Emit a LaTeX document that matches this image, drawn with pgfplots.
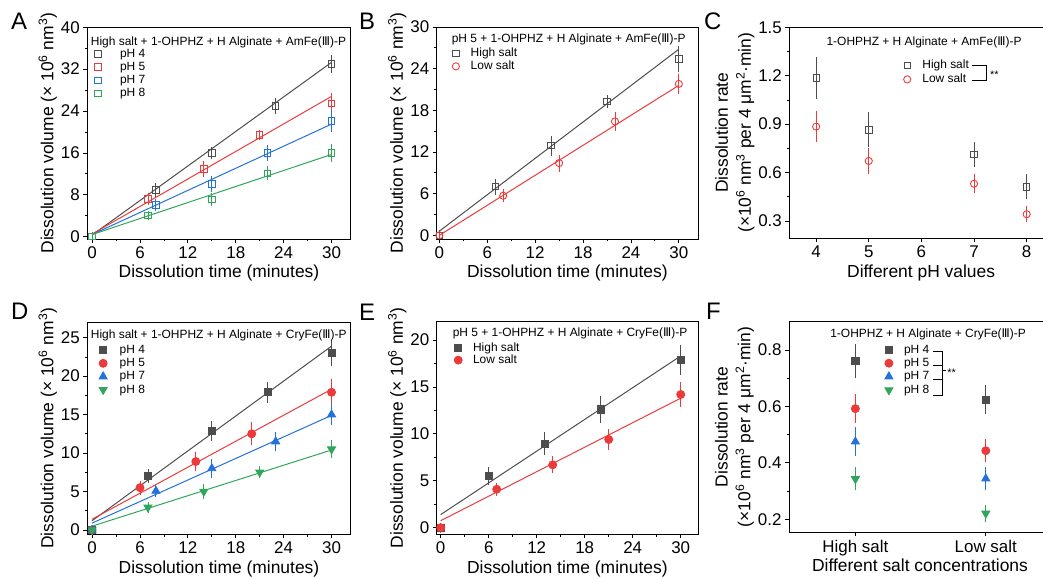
\documentclass[border=0pt]{standalone}
\usepackage{pgfplots}
\pgfplotsset{compat=1.18}
\usepackage{fontspec}
\setmainfont{Liberation Sans}
\newfontfamily\dejavu{DejaVu Sans}
\newcommand{\RIII}{{\dejavu Ⅲ}}
\newcommand{\fs}[2]{\fontsize{#1}{#2}\selectfont}
\definecolor{cgray}{HTML}{4D4D4D}
\definecolor{cred}{HTML}{EC3A3A}
\definecolor{cblue}{HTML}{2272DA}
\definecolor{cgreen}{HTML}{2FA65C}
\pgfplotsset{
  panel/.style={
    scale only axis, anchor=south west,
    axis line style={line width=0.9pt},
    every tick/.style={line width=0.8pt, black},
    tick align=outside, tick pos=left,
    major tick length=4pt, minor tick length=2.5pt,
    minor tick num=1,
    ticklabel style={font=\fs{17}{20}},
    /pgf/number format/assume math mode=true,
    label style={font=\fs{17.5}{23}},
    legend cell align=left,
    legend style={draw=none, fill=none, inner sep=0pt, anchor=north west,
       font=\fs{12}{14}, nodes={inner sep=0.5pt}, column sep=0pt},
  },
  limg/.style={legend image code/.code={\path (-6pt,0pt) (#1,0pt); \draw[##1] plot coordinates {(0pt,0pt)};}},
  fitline/.style={line width=1pt, forget plot},
  dat/.style={only marks, mark options={solid, line width=0.9pt},
    error bars/.cd, y dir=both, y explicit,
    error bar style={line width=0.9pt},
    error mark options={mark size=3pt, line width=0.9pt}},
  datdown/.style={only marks, mark options={solid, line width=0.9pt, rotate=180},
    error bars/.cd, y dir=both, y explicit,
    error bar style={line width=0.9pt},
    error mark options={mark size=3pt, line width=0.9pt, rotate=0}},
}
\begin{document}
\begin{tikzpicture}
\useasboundingbox (0,0) rectangle (1043bp,579bp);

% ---------------- A ----------------
\begin{axis}[panel, limg=21.5pt, at={(87.3bp,340bp)}, width=263.4bp, height=211.7bp,
  xmin=-0.6, xmax=32.4, ymin=-0.45, ymax=40,
  xtick={0,6,...,30}, ytick={0,8,...,40},
  xlabel={Dissolution time (minutes)},
  ylabel={Dissolution volume (× 10\textsuperscript{6} nm\textsuperscript{3})},
  ylabel shift=-3pt,
  legend style={at={(0.016,0.900)}, row sep=2.4pt}]
\addplot[cgray, fitline] coordinates {(0,0.3) (30,33.3)};
\addplot[cred, fitline] coordinates {(0,0.5) (30,26.8)};
\addplot[cblue, fitline] coordinates {(0,0.4) (30,21.5)};
\addplot[cgreen, fitline] coordinates {(0,0.4) (30,15.7)};
\addplot[cgray, mark=square, mark size=3.2pt, dat] table[row sep=\\, y error=e] {x y e\\ 0 0 0.3\\ 8 8.9 0.8\\ 15 16.0 0.6\\ 23 25.0 1.0\\ 30 33.0 1.2\\};
\addlegendentry{pH 4}
\addplot[cred, mark=square, mark size=3.2pt, dat] table[row sep=\\, y error=e] {x y e\\ 0 0 0.3\\ 7 7.2 0.6\\ 14 12.9 0.9\\ 21 19.4 0.4\\ 30 25.4 1.5\\};
\addlegendentry{pH 5}
\addplot[cblue, mark=square, mark size=3.2pt, dat] table[row sep=\\, y error=e] {x y e\\ 0 0 0.2\\ 8 6.05 0.5\\ 15 10.1 1.0\\ 22 16.0 1.0\\ 30 22.1 1.5\\};
\addlegendentry{pH 7}
\addplot[cgreen, mark=square, mark size=3.2pt, dat] table[row sep=\\, y error=e] {x y e\\ 0 0 0.2\\ 7 4.1 0.3\\ 15 7.1 0.6\\ 22 12.1 0.8\\ 30 16.0 1.1\\};
\addlegendentry{pH 8}
\node[anchor=west, inner sep=0pt, font=\fs{12}{14}] at (rel axis cs:0.013,0.929) {High salt + 1-OHPHZ + H Alginate + AmFe(\RIII)-P};
\end{axis}

% ---------------- B ----------------
\begin{axis}[panel, limg=14.2pt, at={(436.7bp,340bp)}, width=261.3bp, height=212bp,
  xmin=-0.33, xmax=32.4, ymin=-0.53, ymax=30,
  xtick={0,6,...,30}, ytick={0,6,...,30},
  xlabel={Dissolution time (minutes)},
  ylabel={Dissolution volume (× 10\textsuperscript{6} nm\textsuperscript{3})},
  ylabel shift=-3pt,
  legend style={at={(0.049,0.903)}, row sep=1.9pt}]
\addplot[cgray, fitline] coordinates {(0,0.6) (30,26.8)};
\addplot[cred, fitline] coordinates {(0,0) (30,21.6)};
\addplot[cgray, mark=square, mark size=3.2pt, dat] table[row sep=\\, y error=e] {x y e\\ 0 0 0.3\\ 7 7.0 0.7\\ 14 12.9 1.0\\ 21 19.3 0.5\\ 30 25.4 1.5\\};
\addlegendentry{High salt}
\addplot[cred, mark=o, mark size=3.6pt, dat] table[row sep=\\, y error=e] {x y e\\ 0 0 0.2\\ 8 5.7 0.5\\ 15 10.4 0.8\\ 22 16.4 0.9\\ 30 21.8 1.0\\};
\addlegendentry{Low salt}
\node[anchor=west, inner sep=0pt, font=\fs{12}{14}] at (rel axis cs:0.057,0.943) {pH 5 + 1-OHPHZ + H Alginate + AmFe(\RIII)-P};
\end{axis}

% ---------------- C ----------------
\begin{axis}[panel, limg=14.5pt, at={(789.3bp,340.7bp)}, width=263.7bp, height=211bp,
  xmin=3.49, xmax=8.5, ymin=0.193, ymax=1.5,
  xtick={4,5,6,7,8}, minor x tick num=0, ytick={0.3,0.6,...,1.5},
  yticklabel style={/pgf/number format/fixed, /pgf/number format/precision=1, /pgf/number format/fixed zerofill},
  xlabel={Different pH values},
  ylabel={Dissolution rate\\(×10\textsuperscript{6} nm\textsuperscript{3} per 4 μm\textsuperscript{2}·min)},
  ylabel style={align=center}, ylabel shift=-3pt,
  legend style={at={(0.423,0.847)}, row sep=2.9pt}]
\addplot[cgray, mark=square, mark size=3.2pt, dat] table[row sep=\\, y error=e] {x y e\\ 4 1.186 0.11\\ 5 0.864 0.09\\ 7 0.711 0.06\\ 8 0.512 0.06\\};
\addlegendentry{High salt}
\addplot[cred, mark=o, mark size=3.6pt, dat] table[row sep=\\, y error=e] {x y e\\ 4 0.885 0.08\\ 5 0.672 0.06\\ 7 0.531 0.04\\ 8 0.342 0.03\\};
\addlegendentry{Low salt}
\node[anchor=center, inner sep=0pt, font=\fs{12}{14}] at (rel axis cs:0.511,0.930) {1-OHPHZ + H Alginate + AmFe(\RIII)-P};
\draw[line width=0.9pt] (rel axis cs:0.692,0.817) -- (rel axis cs:0.746,0.817) -- (rel axis cs:0.746,0.746) -- (rel axis cs:0.692,0.746);
\node[anchor=west, inner sep=0pt, font=\fs{11}{12}] at (rel axis cs:0.761,0.774) {**};
\end{axis}

% ---------------- D ----------------
\begin{axis}[panel, limg=15.9pt, at={(87.3bp,44.7bp)}, width=263.4bp, height=212bp,
  xmin=-0.6, xmax=32.4, ymin=-0.56, ymax=27,
  xtick={0,6,...,30}, ytick={0,5,...,25},
  xlabel={Dissolution time (minutes)},
  ylabel={Dissolution volume (× 10\textsuperscript{6} nm\textsuperscript{3})},
  ylabel shift=-3pt,
  legend style={at={(0.036,0.895)}, row sep=2.5pt}]
\addplot[cgray, fitline] coordinates {(0,1.2) (30,23.9)};
\addplot[cred, fitline] coordinates {(0,1.4) (30,18.3)};
\addplot[cblue, fitline] coordinates {(0,0.9) (30,14.9)};
\addplot[cgreen, fitline] coordinates {(0,0.5) (30,10.4)};
\addplot[cgray, mark=square*, mark size=3.6pt, dat] table[row sep=\\, y error=e] {x y e\\ 0 0 0.2\\ 7 7.0 0.5\\ 15 12.9 0.9\\ 22 17.9 1.0\\ 30 23.0 1.3\\};
\addlegendentry{pH 4}
\addplot[cred, mark=*, mark size=4pt, dat] table[row sep=\\, y error=e] {x y e\\ 0 0 0.2\\ 6 5.5 0.5\\ 13 8.9 0.9\\ 20 12.5 1.1\\ 30 17.9 1.4\\};
\addlegendentry{pH 5}
\addplot[cblue, mark=triangle*, mark size=4.6pt, dat] table[row sep=\\, y error=e] {x y e\\ 0 0 0.2\\ 8 5.07 0.4\\ 15 8.0 0.8\\ 23 11.5 0.9\\ 30 15.0 1.0\\};
\addlegendentry{pH 7}
\addplot[cgreen, mark=triangle*, mark size=4.6pt, datdown] table[row sep=\\, y error=e] {x y e\\ 0 0 0.2\\ 7 2.95 0.3\\ 14 5.0 0.6\\ 21 7.5 0.4\\ 30 10.5 0.8\\};
\addlegendentry{pH 8}
\node[anchor=west, inner sep=0pt, font=\fs{12}{14}] at (rel axis cs:0.013,0.937) {High salt + 1-OHPHZ + H Alginate + CryFe(\RIII)-P};
\end{axis}

% ---------------- E ----------------
\begin{axis}[panel, limg=14.2pt, at={(436.7bp,44.7bp)}, width=261.3bp, height=212.6bp,
  xmin=-0.5, xmax=32.16, ymin=-0.7, ymax=21.95,
  xtick={0,6,...,30}, ytick={0,5,...,20},
  xlabel={Dissolution time (minutes)},
  ylabel={Dissolution volume (× 10\textsuperscript{6} nm\textsuperscript{3})},
  ylabel shift=-3pt,
  legend style={at={(0.058,0.905)}, row sep=1.3pt}]
\addplot[cgray, fitline] coordinates {(0,1.4) (30,18.3)};
\addplot[cred, fitline] coordinates {(0,0.75) (30,13.8)};
\addplot[cgray, mark=square*, mark size=3.6pt, dat] table[row sep=\\, y error=e] {x y e\\ 0 0 0.2\\ 6 5.5 0.6\\ 13 8.95 0.9\\ 20 12.6 1.1\\ 30 17.9 1.3\\};
\addlegendentry{High salt}
\addplot[cred, mark=*, mark size=4pt, dat] table[row sep=\\, y error=e] {x y e\\ 0 0 0.2\\ 7 4.1 0.4\\ 14 6.7 0.6\\ 21 9.4 0.8\\ 30 14.2 1.0\\};
\addlegendentry{Low salt}
\node[anchor=west, inner sep=0pt, font=\fs{12}{14}] at (rel axis cs:0.061,0.945) {pH 5 + 1-OHPHZ + H Alginate + CryFe(\RIII)-P};
\end{axis}

% ---------------- F ----------------
\begin{axis}[panel, limg=14.5pt, at={(789bp,46.7bp)}, width=262bp, height=210.6bp,
  xmin=-0.509, xmax=1.5, ymin=0.154, ymax=0.9,
  xtick={0,1}, xticklabels={High salt, Low salt}, minor x tick num=0,
  ytick={0.2,0.4,0.6,0.8},
  yticklabel style={/pgf/number format/fixed, /pgf/number format/precision=1, /pgf/number format/fixed zerofill},
  xlabel={Different salt concentrations}, xlabel shift=-4pt,
  ylabel={Dissolution rate\\(×10\textsuperscript{6} nm\textsuperscript{3} per 4 μm\textsuperscript{2}·min)},
  ylabel style={align=center}, ylabel shift=-3pt,
  legend style={at={(0.357,0.893)}, row sep=2.7pt}]
\addplot[cgray, mark=square*, mark size=3.6pt, dat] table[row sep=\\, y error=e] {x y e\\ 0 0.761 0.05\\ 1 0.624 0.04\\};
\addlegendentry{pH 4}
\addplot[cred, mark=*, mark size=4pt, dat] table[row sep=\\, y error=e] {x y e\\ 0 0.592 0.04\\ 1 0.443 0.03\\};
\addlegendentry{pH 5}
\addplot[cblue, mark=triangle*, mark size=4.6pt, dat] table[row sep=\\, y error=e] {x y e\\ 0 0.475 0.04\\ 1 0.344 0.03\\};
\addlegendentry{pH 7}
\addplot[cgreen, mark=triangle*, mark size=4.6pt, datdown] table[row sep=\\, y error=e] {x y e\\ 0 0.343 0.03\\ 1 0.221 0.02\\};
\addlegendentry{pH 8}
\node[anchor=center, inner sep=0pt, font=\fs{12}{14}] at (rel axis cs:0.531,0.940) {1-OHPHZ + H Alginate + CryFe(\RIII)-P};
\draw[line width=0.9pt] (rel axis cs:0.550,0.861) -- (rel axis cs:0.585,0.861) -- (rel axis cs:0.585,0.652) -- (rel axis cs:0.550,0.652);
\draw[line width=0.9pt] (rel axis cs:0.550,0.793) -- (rel axis cs:0.585,0.793);
\draw[line width=0.9pt] (rel axis cs:0.550,0.727) -- (rel axis cs:0.585,0.727);
\draw[line width=0.9pt] (rel axis cs:0.585,0.767) -- (rel axis cs:0.600,0.767);
\node[anchor=west, inner sep=0pt, font=\fs{11}{12}] at (rel axis cs:0.604,0.756) {**};
\end{axis}

% panel letters
\begin{scope}[every node/.style={anchor=base west, inner sep=0pt, font=\fs{24}{26}}]
\node at (11bp,549bp) {A};
\node at (359bp,549bp) {B};
\node at (704bp,549bp) {C};
\node at (11bp,259bp) {D};
\node at (359bp,258.3bp) {E};
\node at (706bp,259.7bp) {F};
\end{scope}
\end{tikzpicture}
\end{document}
